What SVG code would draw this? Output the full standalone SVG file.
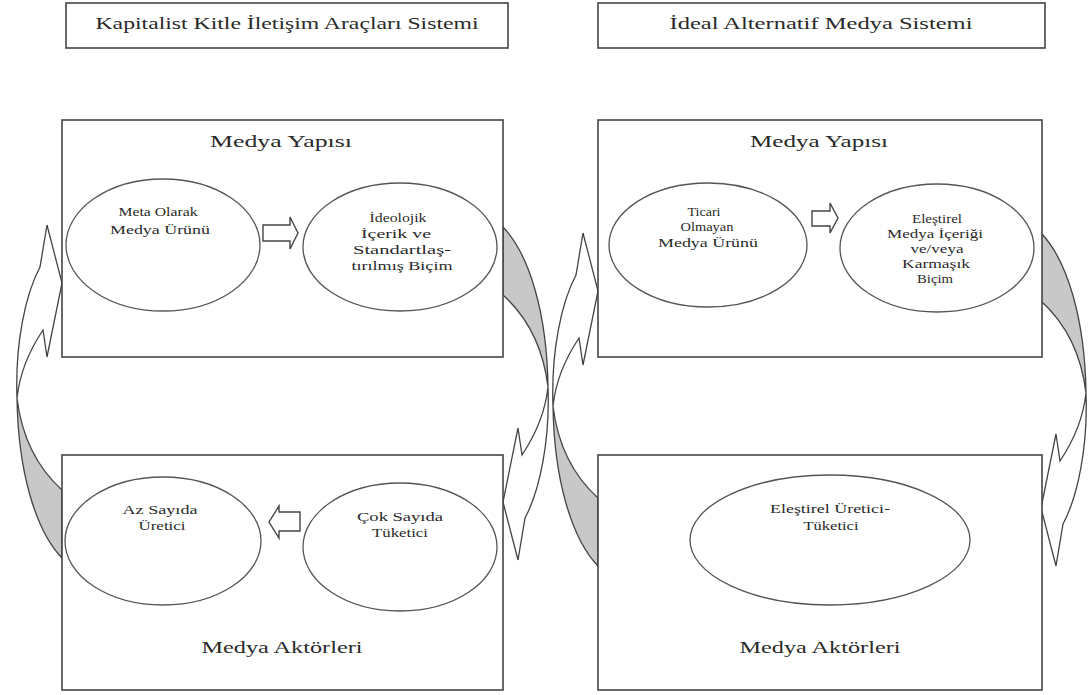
<svg xmlns="http://www.w3.org/2000/svg" xmlns:xlink="http://www.w3.org/1999/xlink" width="1089" height="695" viewBox="0 0 1089 695">
<style>
.box{fill:#fff;stroke:#444;stroke-width:1.6}
.ell{fill:#fff;stroke:#555;stroke-width:1.3}
.t{font-family:"Liberation Serif","Times New Roman",serif;fill:#2a2a2a;text-anchor:middle}
.big{font-size:17px}
.sm{font-size:13px}
.front{fill:#fff;stroke:#444;stroke-width:1.3;stroke-linejoin:miter}
.back{fill:#c8c8c8;stroke:#444;stroke-width:1.3}
.blk{fill:#fff;stroke:#444;stroke-width:1.4}
</style>
<defs>
<g id="curv">
<path class="back" d="M17,398 C18,470 35,530 62,558 L62,490 C40,470 22,440 17,398 Z"/>
<path class="front" d="M47,225 L62,283 L47,357 L43,330 C33,345 20,370 17,398 C15,345 25,295 40,267 Z"/>
</g>
</defs>
<rect width="1089" height="695" fill="#fff"/>

<g id="title-left">
<rect class="box" x="66" y="3" width="442" height="45"/>
<text class="t big" x="287" y="29" textLength="383" lengthAdjust="spacingAndGlyphs">Kapitalist Kitle İletişim Araçları Sistemi</text>
</g>
<g id="title-right">
<rect class="box" x="598" y="3" width="447" height="45"/>
<text class="t big" x="821" y="29" textLength="303" lengthAdjust="spacingAndGlyphs">İdeal Alternatif Medya Sistemi</text>
</g>

<g id="connectors">
<use xlink:href="#curv"/>
<use xlink:href="#curv" transform="rotate(180,282.5,392.5)"/>
<use xlink:href="#curv" transform="translate(536,8)"/>
<use xlink:href="#curv" transform="translate(538,6) rotate(180,282.5,392.5)"/>
</g>

<g id="left-structure">
<rect class="box" x="62" y="120" width="441" height="237"/>
<text class="t big" x="281" y="147" textLength="142" lengthAdjust="spacingAndGlyphs">Medya Yapısı</text>
</g>
<g id="right-structure">
<rect class="box" x="598" y="120" width="444" height="237"/>
<text class="t big" x="819" y="147" textLength="138" lengthAdjust="spacingAndGlyphs">Medya Yapısı</text>
</g>
<g id="left-actors">
<rect class="box" x="62" y="455" width="441" height="235"/>
<text class="t big" x="282" y="653" textLength="161" lengthAdjust="spacingAndGlyphs">Medya Aktörleri</text>
</g>
<g id="right-actors">
<rect class="box" x="598" y="455" width="444" height="235"/>
<text class="t big" x="820" y="653" textLength="161" lengthAdjust="spacingAndGlyphs">Medya Aktörleri</text>
</g>

<g id="meta-urun">
<ellipse class="ell" cx="163" cy="245" rx="97" ry="66"/>
<text class="t sm" x="158" y="216" textLength="79" lengthAdjust="spacingAndGlyphs">Meta Olarak</text>
<text class="t sm" x="160" y="234" textLength="100" lengthAdjust="spacingAndGlyphs">Medya Ürünü</text>
</g>
<g id="ideolojik">
<ellipse class="ell" cx="400" cy="247" rx="97" ry="64"/>
<text class="t sm" x="398" y="222" textLength="57" lengthAdjust="spacingAndGlyphs">İdeolojik</text>
<text class="t sm" x="396" y="238" textLength="70" lengthAdjust="spacingAndGlyphs">İçerik ve</text>
<text class="t sm" x="402" y="254" textLength="98" lengthAdjust="spacingAndGlyphs">Standartlaş-</text>
<text class="t sm" x="402" y="270" textLength="101" lengthAdjust="spacingAndGlyphs">tırılmış Biçim</text>
</g>
<g id="ticari-olmayan">
<ellipse class="ell" cx="708" cy="245" rx="99" ry="62"/>
<text class="t sm" x="704" y="216" textLength="33" lengthAdjust="spacingAndGlyphs">Ticari</text>
<text class="t sm" x="707" y="231" textLength="53" lengthAdjust="spacingAndGlyphs">Olmayan</text>
<text class="t sm" x="708" y="247" textLength="100" lengthAdjust="spacingAndGlyphs">Medya Ürünü</text>
</g>
<g id="elestirel-icerik">
<ellipse class="ell" cx="937" cy="248" rx="97" ry="64"/>
<text class="t sm" x="937" y="223" textLength="50" lengthAdjust="spacingAndGlyphs">Eleştirel</text>
<text class="t sm" x="935" y="238" textLength="96" lengthAdjust="spacingAndGlyphs">Medya İçeriği</text>
<text class="t sm" x="937" y="253" textLength="53" lengthAdjust="spacingAndGlyphs">ve/veya</text>
<text class="t sm" x="936" y="268" textLength="68" lengthAdjust="spacingAndGlyphs">Karmaşık</text>
<text class="t sm" x="935" y="283" textLength="36" lengthAdjust="spacingAndGlyphs">Biçim</text>
</g>
<g id="az-sayida">
<ellipse class="ell" cx="163" cy="541" rx="98" ry="64"/>
<text class="t sm" x="160" y="514" textLength="75" lengthAdjust="spacingAndGlyphs">Az Sayıda</text>
<text class="t sm" x="162" y="530" textLength="47" lengthAdjust="spacingAndGlyphs">Üretici</text>
</g>
<g id="cok-sayida">
<ellipse class="ell" cx="400" cy="547" rx="97" ry="64"/>
<text class="t sm" x="400" y="521" textLength="86" lengthAdjust="spacingAndGlyphs">Çok Sayıda</text>
<text class="t sm" x="400" y="537" textLength="56" lengthAdjust="spacingAndGlyphs">Tüketici</text>
</g>
<g id="elestirel-uretici">
<ellipse class="ell" cx="830" cy="540" rx="140" ry="65"/>
<text class="t sm" x="830" y="513" textLength="120" lengthAdjust="spacingAndGlyphs">Eleştirel Üretici-</text>
<text class="t sm" x="831" y="530" textLength="55" lengthAdjust="spacingAndGlyphs">Tüketici</text>
</g>

<g id="block-arrows">
<path class="blk" d="M263,225 H290 V217 L298,233 L290,249 V241 H263 Z"/>
<path class="blk" d="M812,211 H830 V203 L838,218 L830,233 V226 H812 Z"/>
<path class="blk" d="M300,512 H279 V506 L269,522 L279,538 V531 H300 Z"/>
</g>
</svg>
